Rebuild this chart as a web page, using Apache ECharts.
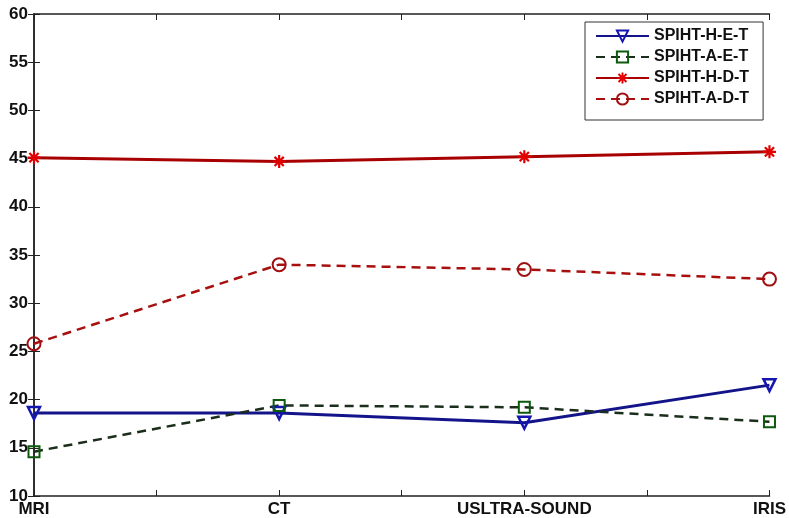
<!DOCTYPE html>
<html>
<head>
<meta charset="utf-8">
<script src="https://cdn.jsdelivr.net/npm/echarts@6/dist/echarts.min.js"></script>
<style>
    html,body{margin:0;padding:0;background:#fff;}
    #chart_line{width:789px;height:518px;}
</style>
</head>
<body>
<div id="chart_line"></div>
<script>
    // data
    var categories = ['MRI', 'CT', 'USLTRA-SOUND', 'IRIS'];
    var seriesNames = ['SPIHT-H-E-T', 'SPIHT-A-E-T', 'SPIHT-H-D-T', 'SPIHT-A-D-T'];
    var hetValues = [18.6, 18.6, 17.6, 21.5];
    var aetValues = [14.6, 19.4, 19.2, 17.7];
    var hdtValues = [45.1, 44.7, 45.2, 45.7];
    var adtValues = [25.8, 34.0, 33.5, 32.5];
    var yTicks = [10, 15, 20, 25, 30, 35, 40, 45, 50, 55, 60];

    function pairs(vals){
        return vals.map(function(v, i){ return [i, v]; });
    }

    // asterisk marker (matlab '*')
    function asteriskPath(){
        var p = '';
        [0, 45, 90, 135].forEach(function(deg){
            var a = deg * Math.PI / 180, L = 10, W = 1.7;
            var c = Math.cos(a), s = Math.sin(a);
            var pts = [[-L, -W], [L, -W], [L, W], [-L, W]].map(function(q){
                return (q[0]*c - q[1]*s).toFixed(2) + ',' + (q[0]*s + q[1]*c).toFixed(2);
            });
            p += 'M' + pts[0] + ' L' + pts[1] + ' L' + pts[2] + ' L' + pts[3] + ' Z ';
        });
        return 'path://' + p;
    }

    var font = 'Liberation Sans, Arial, sans-serif';
    var axisColor = '#222';

    var myChart = echarts.init(document.getElementById('chart_line'));
    var option = {
        animation: false,
        backgroundColor: '#fff',
        grid: {left: 34, right: 17, top: 14, bottom: 22},
        legend: {
            orient: 'vertical',
            left: 585,
            top: 22,
            padding: [6, 14, 13, 10],
            itemWidth: 53,
            itemHeight: 14,
            itemGap: 5,
            backgroundColor: '#fff',
            borderColor: '#333',
            borderWidth: 1,
            data: seriesNames,
            textStyle: {fontFamily: font, fontWeight: 'bold', fontSize: 16, color: '#111'}
        },
        xAxis: [{
            type: 'value', min: 0, max: 3, interval: 0.5,
            axisLine: {lineStyle: {color: axisColor, width: 1.5}},
            axisTick: {inside: true, length: 6, lineStyle: {color: axisColor}},
            splitLine: {show: false},
            axisLabel: {
                margin: 5, fontFamily: font, fontWeight: 'bold', fontSize: 17, color: '#111',
                formatter: function(v){ return v % 1 === 0 ? categories[v] : ''; }
            }
        }, {
            type: 'value', position: 'top', min: 0, max: 3, interval: 0.5,
            axisLine: {show: true, lineStyle: {color: axisColor, width: 1.5}},
            axisTick: {inside: true, length: 6, lineStyle: {color: axisColor}},
            splitLine: {show: false},
            axisLabel: {show: false}
        }],
        yAxis: [{
            type: 'value', min: 10, max: 60, interval: 5,
            axisLine: {show: true, lineStyle: {color: axisColor, width: 1.5}},
            axisTick: {show: true, inside: true, length: 6, lineStyle: {color: axisColor}},
            splitLine: {show: false},
            axisLabel: {
                margin: 6, fontFamily: font, fontWeight: 'bold', fontSize: 17, color: '#111',
                formatter: function(v){ return yTicks.indexOf(v) >= 0 ? String(v) : ''; }
            }
        }, {
            type: 'value', position: 'right', min: 10, max: 60, interval: 5,
            axisLine: {show: true, lineStyle: {color: axisColor, width: 1.5}},
            axisTick: {show: true, inside: true, length: 6, lineStyle: {color: axisColor}},
            splitLine: {show: false},
            axisLabel: {show: false}
        }],
        series: [
            {
                name: seriesNames[0], type: 'line', data: pairs(hetValues),
                symbol: 'triangle', symbolRotate: 180, symbolSize: 12,
                lineStyle: {color: '#14148a', width: 3},
                itemStyle: {color: 'rgba(255,255,255,0)', borderColor: '#1515b0', borderWidth: 2.5}
            },
            {
                name: seriesNames[1], type: 'line', data: pairs(aetValues),
                symbol: 'rect', symbolSize: 11,
                lineStyle: {color: '#1b2e1b', width: 2.5, type: [9, 6]},
                itemStyle: {color: 'rgba(255,255,255,0)', borderColor: '#0d5a0d', borderWidth: 2}
            },
            {
                name: seriesNames[2], type: 'line', data: pairs(hdtValues),
                symbol: asteriskPath(), symbolSize: 13,
                lineStyle: {color: '#a80000', width: 3},
                itemStyle: {color: '#e00000'}
            },
            {
                name: seriesNames[3], type: 'line', data: pairs(adtValues),
                symbol: 'circle', symbolSize: 13,
                lineStyle: {color: '#a81010', width: 2.5, type: [9, 6]},
                itemStyle: {color: 'rgba(255,255,255,0)', borderColor: '#a01010', borderWidth: 2}
            }
        ]
    };
    myChart.setOption(option);
</script>
</body>
</html>
